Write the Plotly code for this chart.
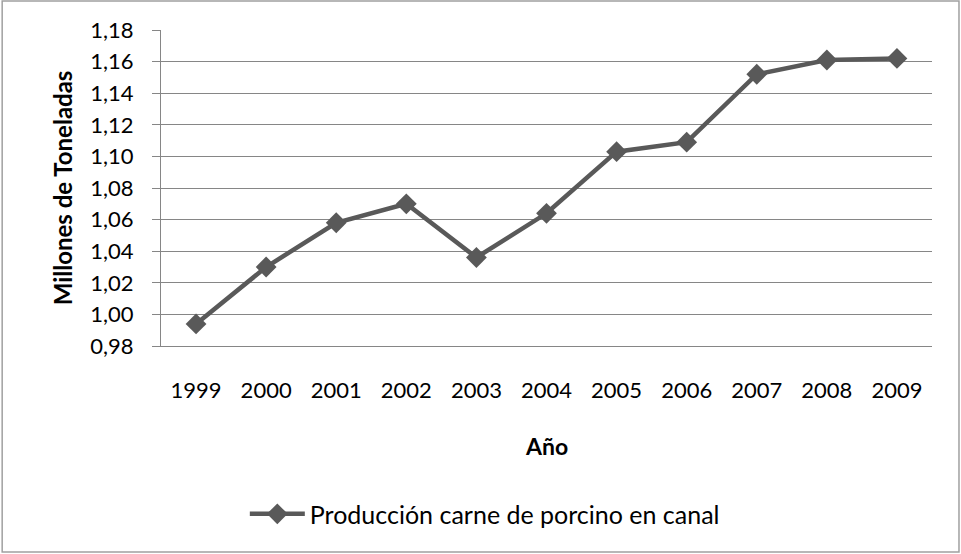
import plotly.graph_objects as go

anios = ["1999", "2000", "2001", "2002", "2003", "2004", "2005", "2006", "2007", "2008", "2009"]
produccion = [0.994, 1.030, 1.058, 1.070, 1.036, 1.064, 1.103, 1.109, 1.152, 1.161, 1.162]
serie = "Producción carne de porcino en canal"

gris = "#595959"
rejilla = "#868686"
fuente = "Lato, 'Open Sans', sans-serif"

fig = go.Figure()
fig.add_trace(go.Scatter(
    x=anios, y=produccion, name=serie, mode="lines+markers",
    line=dict(color=gris, width=4.5),
    marker=dict(symbol="diamond", size=16, color=gris),
    showlegend=True,
))

fig.update_layout(
    width=961, height=554,
    margin=dict(l=161, r=29, t=30, b=208, autoexpand=False),
    paper_bgcolor="white", plot_bgcolor="white",
    font=dict(family=fuente, size=22, color="#000000"),
    xaxis=dict(
        type="category", range=[-0.5, len(anios) - 0.5],
        showgrid=False, showline=True, linecolor=rejilla, linewidth=1,
        ticks="", ticklabelstandoff=25, tickfont=dict(size=22),
    ),
    yaxis=dict(
        range=[0.98, 1.18], dtick=0.02, tickformat=".2f",
        showgrid=True, gridcolor=rejilla, gridwidth=1,
        showline=True, linecolor=rejilla, linewidth=1,
        ticks="outside", ticklen=8, tickcolor=rejilla, ticklabelstandoff=14,
        tickfont=dict(size=22), zeroline=False,
    ),
    separators=",.",
    legend=dict(
        orientation="h", x=0.42, xanchor="center", y=-0.532, yanchor="middle",
        itemwidth=55, font=dict(size=25), bgcolor="rgba(0,0,0,0)",
    ),
    annotations=[
        dict(text="<b>Millones de Toneladas</b>", xref="paper", yref="paper",
             x=-0.128, y=0.5, xanchor="center", yanchor="middle",
             textangle=-90, showarrow=False, font=dict(size=24)),
        dict(text="<b>Año</b>", xref="paper", yref="paper",
             x=0.5, y=-0.316, xanchor="center", yanchor="middle",
             showarrow=False, font=dict(size=23)),
    ],
    shapes=[
        dict(type="rect", xref="paper", yref="paper",
             x0=-0.206, x1=1.035, y0=-0.652, y1=1.092,
             line=dict(color="#a0a0a0", width=1.5)),
    ],
)

fig.write_html("out.html", config={"displayModeBar": False},
               post_script="document.body.style.margin='0';")
